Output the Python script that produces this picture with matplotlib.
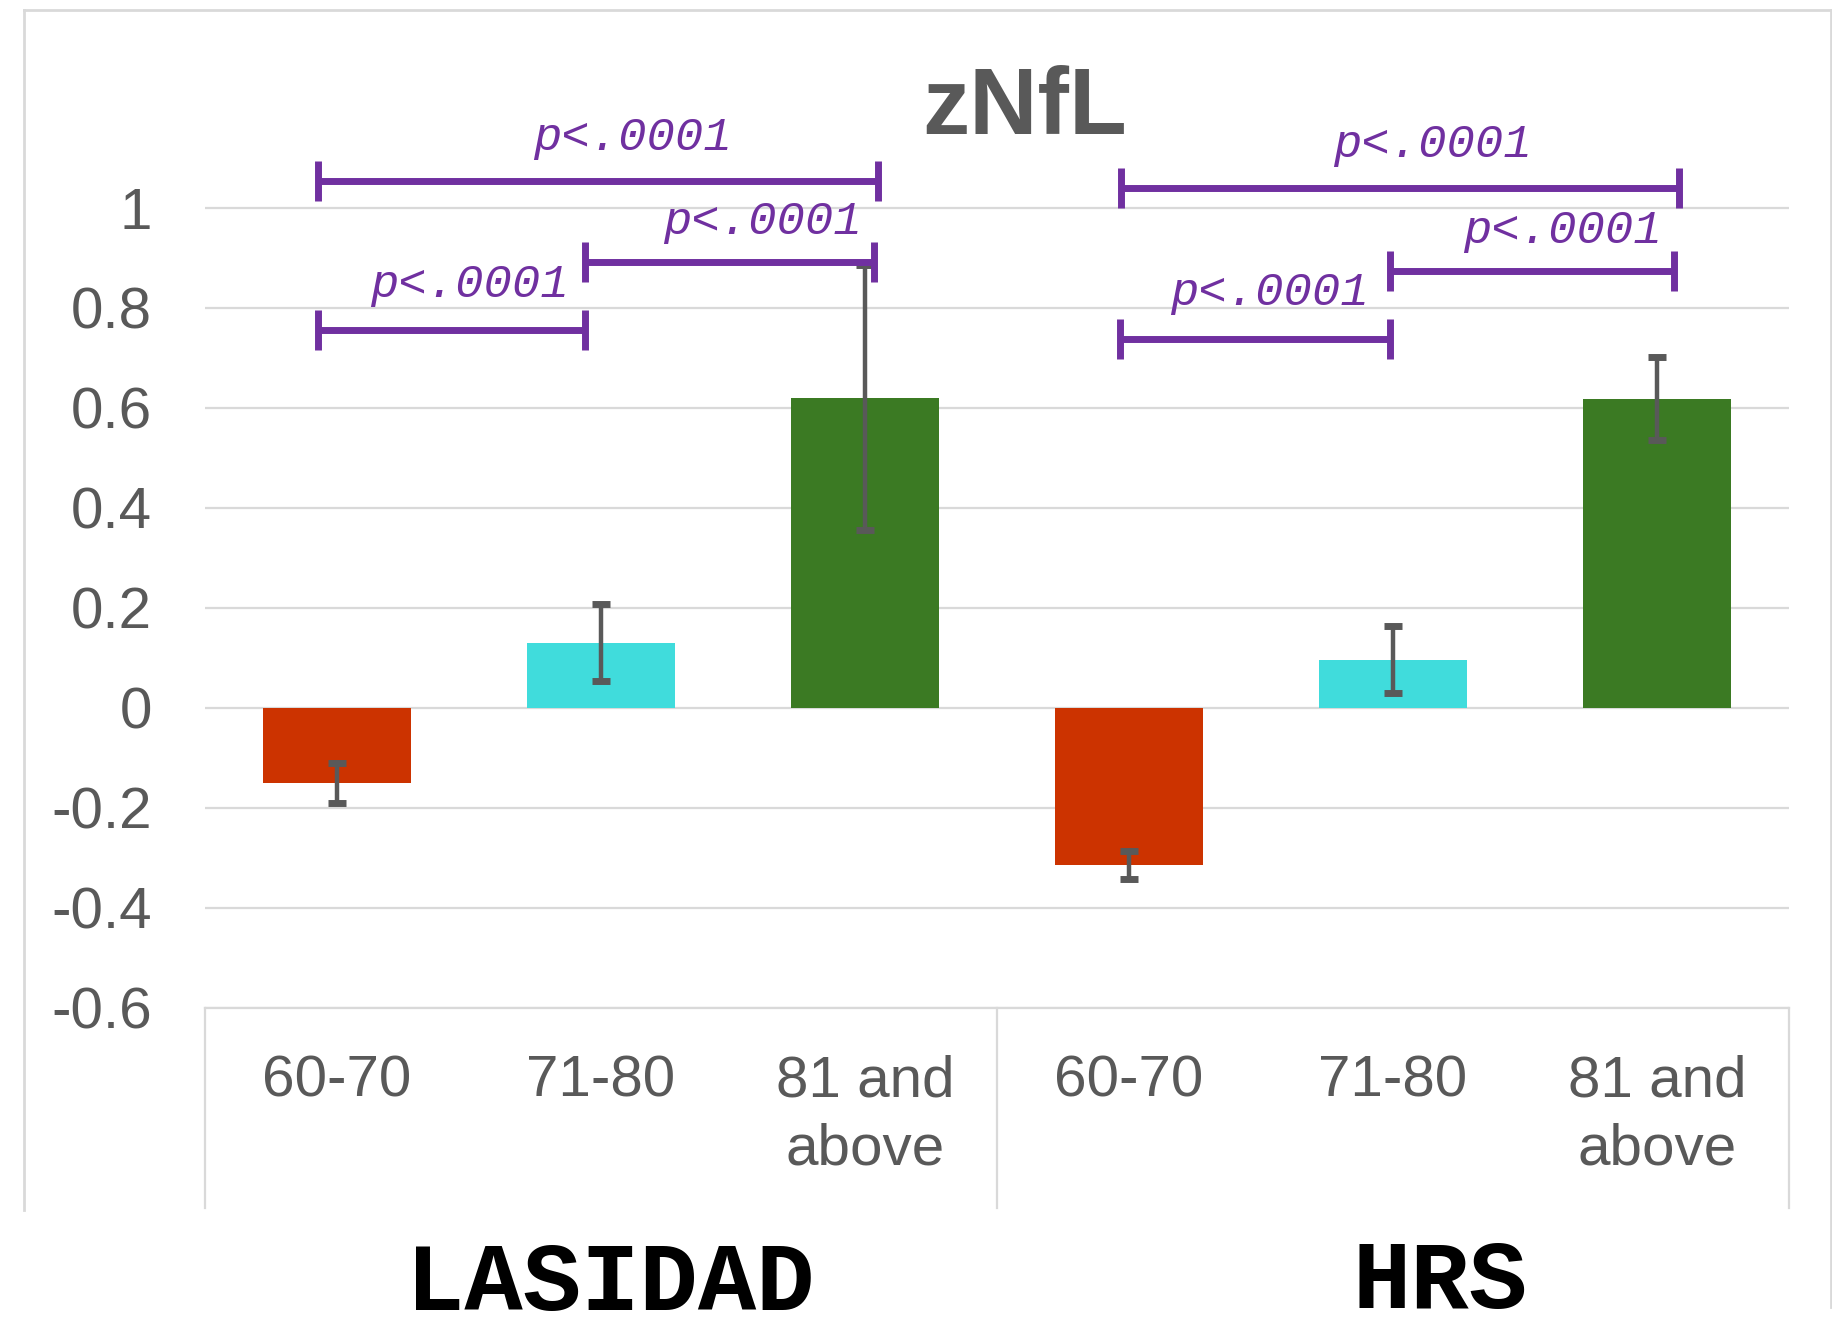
import matplotlib.pyplot as plt
import numpy as np
from matplotlib.lines import Line2D

# data
groups = ['LASIDAD', 'HRS']
age_bins = ['60-70', '71-80', '81 and\nabove']
znfl_mean = [-0.15, 0.13, 0.62, -0.315, 0.096, 0.618]
znfl_err = [0.04, 0.077, 0.265, 0.028, 0.067, 0.083]
bar_colors = ['#CC3300', '#40DCDC', '#3B7A23'] * 2

# pairwise comparisons (bar index pairs) and their p labels
comparisons = [(0, 2), (0, 1), (1, 2), (3, 5), (3, 4), (4, 5)]
p_labels = ['p<.0001'] * 6

# bracket layout: height, end offsets from bar centres, label x
bracket_y = [1.053, 0.756, 0.891, 1.039, 0.737, 0.873]
bracket_dx = [(-0.07, 0.05), (-0.07, -0.06), (-0.06, 0.035),
              (-0.03, 0.084), (-0.035, -0.013), (-0.013, 0.066)]
label_x = [1.12, 0.50, 1.61, 4.15, 3.53, 4.64]
label_dy = [0.086, 0.089, 0.08, 0.086, 0.093, 0.081]

gray = '#595959'
purple = '#7030A0'
sans = 'Liberation Sans'
mono = 'Liberation Mono'

fig = plt.figure(figsize=(18.33, 13.40), dpi=100)
ax = fig.add_axes([0.1118, 0.2480, 0.8642, 0.6714])

x = np.arange(len(znfl_mean))
ax.bar(x, znfl_mean, width=0.56, color=bar_colors, zorder=2)
ax.errorbar(x, znfl_mean, yerr=znfl_err, fmt='none', ecolor=gray,
            elinewidth=3.2, capsize=6.5, capthick=5, zorder=3)

ax.set_xlim(-0.5, 5.5)
ax.set_ylim(-0.6, 1.2)
yt = np.round(np.arange(-0.6, 1.01, 0.2), 1)
ax.set_yticks(yt)
ax.set_yticklabels(['0' if v == 0 else ('%g' % v) for v in yt],
                   fontsize=42, color=gray, family=sans)
ax.yaxis.grid(True, color='#D9D9D9', lw=1.6)
ax.set_axisbelow(True)
ax.tick_params(axis='y', length=0, pad=38)

ax.set_xticks(x)
ax.set_xticklabels(age_bins * 2, fontsize=42, color=gray, family=sans,
                   linespacing=1.32)
ax.tick_params(axis='x', length=0, pad=34)

for s in ['top', 'right', 'left']:
    ax.spines[s].set_visible(False)
ax.spines['bottom'].set_color('#D9D9D9')
ax.spines['bottom'].set_linewidth(1.6)

# category separators below the axis
for xs in [-0.5, 2.5, 5.5]:
    ax.plot([xs, xs], [-0.6, -1.0], color='#D9D9D9', lw=1.6, clip_on=False)

# significance brackets
ticks_h = 0.04
for k, ((i, j), lab) in enumerate(zip(comparisons, p_labels)):
    y = bracket_y[k]
    x0 = i + bracket_dx[k][0]
    x1 = j + bracket_dx[k][1]
    kw = dict(color=purple, lw=5, solid_capstyle='butt', clip_on=False, zorder=4)
    ax.plot([x0, x1], [y, y], **kw)
    ax.plot([x0, x0], [y - ticks_h, y + ticks_h], **kw)
    ax.plot([x1, x1], [y - ticks_h, y + ticks_h], **kw)
    ax.text(label_x[k], y + label_dy[k], lab, ha='center', va='center',
            fontsize=34, style='italic', color=purple, family=mono)

fig.text(1025 / 1833, 1 - 109 / 1340, 'zNfL', ha='center', va='center',
         fontsize=68, fontweight='bold', color=gray, family=sans)

# group labels under the axis
fig.text(610 / 1833, 1 - 1310 / 1340, groups[0], ha='center', va='baseline',
         fontsize=70, fontweight='bold', color='black', family=mono)
fig.text(1440 / 1833, 1 - 1308 / 1340, groups[1], ha='center', va='baseline',
         fontsize=70, fontweight='bold', color='black', family=mono)

# light frame of the chart area
W, H = 1833, 1340
frame = [((24, 10), (1833, 10)), ((24, 10), (24, 1210)), ((1831, 10), (1831, 1307))]
for (xa, ya), (xb, yb) in frame:
    fig.add_artist(Line2D([xa / W, xb / W], [1 - ya / H, 1 - yb / H],
                          color='#D9D9D9', lw=2))

fig.savefig('out.png', dpi=100)
